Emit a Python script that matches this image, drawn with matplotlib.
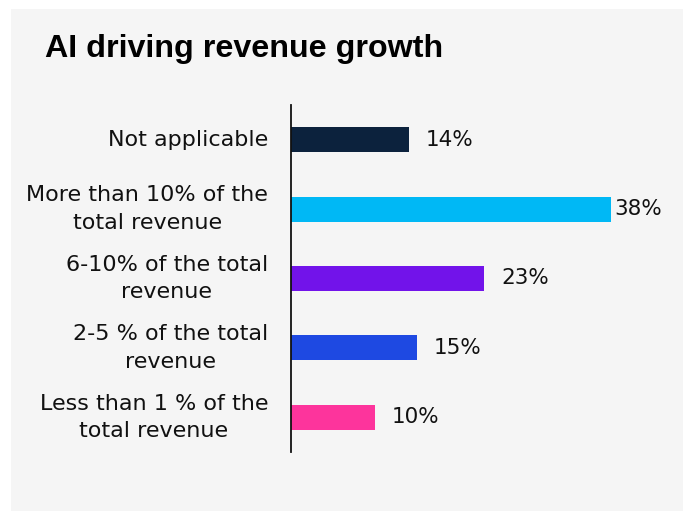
import matplotlib
matplotlib.use("Agg")
import matplotlib.pyplot as plt
from matplotlib.patches import Rectangle

# Survey responses: share of revenue growth driven by AI
categories = [
    "Not applicable",
    "More than 10% of the\ntotal revenue",
    "6-10% of the total\nrevenue",
    "2-5 % of the total\nrevenue",
    "Less than 1 % of the\ntotal revenue",
]
values = [14, 38, 23, 15, 10]
colors = ["#0c223d", "#00b8f5", "#7213ea", "#1e49e2", "#fd349c"]
label_gaps_pt = [12, 3, 12, 12, 12]

W, H = 683, 511
fig = plt.figure(figsize=(W / 100, H / 100), dpi=100, facecolor="white")

# light grey card behind the chart
fig.patches.append(Rectangle((11 / W, 0), 1 - 11 / W, (H - 9) / H,
                             transform=fig.transFigure, facecolor="#f5f5f5",
                             edgecolor="none", zorder=-1))

fig.text(45 / W, (H - 57) / H, "AI driving revenue growth",
         family="Liberation Sans", fontweight="bold", fontsize=23.2,
         color="black", ha="left", va="baseline")

ax = fig.add_axes([291 / W, 59 / H, 336.4 / W, 347 / H])
ax.set_zorder(2)
ax.set_facecolor("none")

y = list(range(len(categories)))
ax.barh(y, values, height=0.36, color=colors, zorder=2)
ax.set_xlim(0, 40)
ax.set_ylim(len(categories) - 0.5, -0.5)

ax.set_yticks(y)
ax.set_yticklabels(categories, family="DejaVu Sans", fontsize=16,
                   linespacing=1.46, multialignment="center", color="#111111",
                   va="center")
ax.tick_params(axis="y", length=0, pad=16.5)
ax.set_xticks([])

for s in ["top", "right", "bottom"]:
    ax.spines[s].set_visible(False)
ax.spines["left"].set_linewidth(1.3)
ax.spines["left"].set_color("#111111")

for yi, v, gap in zip(y, values, label_gaps_pt):
    ax.annotate(f"{v}%", xy=(v, yi), xytext=(gap, 0), textcoords="offset points",
                ha="left", va="center", family="DejaVu Sans",
                fontsize=15.5, color="#111111", annotation_clip=False)

fig.savefig("out.png", dpi=100, facecolor=fig.get_facecolor())
